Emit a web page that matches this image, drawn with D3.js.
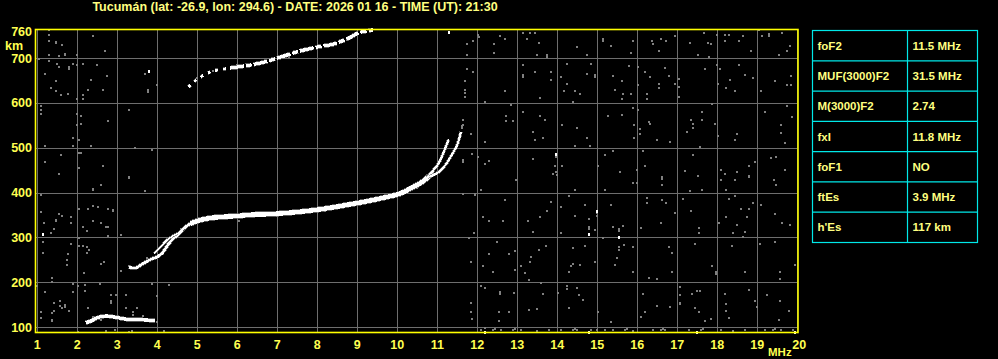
<!DOCTYPE html>
<html><head><meta charset="utf-8">
<script src="https://cdn.jsdelivr.net/npm/d3@7"></script>
<style>html,body{margin:0;padding:0;background:#000;overflow:hidden}</style>
</head><body><svg id="c" width="998" height="359"></svg>
<script>
const title = "Tucumán (lat: -26.9, lon: 294.6) - DATE: 2026 01 16 - TIME (UT): 21:30";
const freqTicks = [1,2,3,4,5,6,7,8,9,10,11,12,13,14,15,16,17,18,19,20];
const kmGrid = [100,200,300,400,500,600,700];
const kmLabels = [100,200,300,400,500,600,700,760];
const paramNames = ["foF2","MUF(3000)F2","M(3000)F2","fxI","foF1","ftEs","h'Es"];
const paramValues = ["11.5 MHz","31.5 MHz","2.74","11.8 MHz","NO","3.9 MHz","117 km"];

// Es trace
const esTrace = [[2.21,110],[2.35,114],[2.5,121],[2.71,125],[2.96,122],[3.21,118],[3.46,117],[3.71,116],[3.94,115]];
// F trace rise (O)
const fRise = [[3.29,234],[3.46,232],[3.63,241],[3.83,251],[4.0,257],[4.13,266],[4.23,279],[4.38,296],[4.5,305],[4.67,321],[4.83,331],[5.0,337]];
// F trace X strand at low frequency
const fRiseX = [[3.92,265],[4.0,272],[4.13,284],[4.25,295],[4.38,303],[4.5,309]];
// F trace plateau
const fMain = [[4.83,331],[5.0,337],[5.29,343],[5.63,346],[6.0,348],[6.38,351],[6.79,352],[7.13,354],[7.63,358],[8.0,362],[8.38,367],[8.82,374],[9.2,380],[9.57,387],[10.07,398],[10.32,409],[10.57,421],[10.75,433],[10.9,446]];
// O-mode cusp
const fO = [[10.75,433],[10.9,450],[11.03,465],[11.15,488],[11.23,506],[11.29,519]];
// X-mode cusp
const fX = [[10.8,435],[11.07,448],[11.23,465],[11.36,484],[11.48,503],[11.55,521],[11.59,536]];
// second hop F trace
const f2Sparse = [[4.78,635],[4.98,652],[5.32,669],[5.6,675],[5.82,678]];
const f2Main = [[5.82,678],[6.14,682],[6.57,689],[7.07,702],[7.57,716],[8.07,726],[8.39,731],[8.82,746],[9.02,756],[9.39,763]];

const noiseWhite = [[14.8,307],[14.98,360],[15.55,301],[13.98,486],[1.13,308],[12.2,89],[14.8,89],[17.5,89],[19.95,89],[11.3,758],[3.8,672]];
const noiseGray = [
[12.97,428],[14.0,439],[14.44,405],[15.19,407],[15.88,422],[15.98,422],[16.63,431],[16.63,416],[17.32,403],[17.63,407],[18.23,407],[18.1,428],[18.44,428],[18.78,436],[19.42,428],[19.48,416],[12.1,407],[11.94,396],
[11.63,396],[12.69,383],[12.13,345],[12.3,337],[12.63,337],[11.93,310],[13.27,337],[13.38,313],[13.58,345],[13.83,379],[13.75,360],[14.08,368],[14.08,310],[14.44,348],[14.28,393],[14.69,372],[14.8,342],[14.8,323],[14.8,318],[14.98,349],[14.98,354],[14.94,316],[15.13,299],[15.34,372],[15.4,323],[15.55,319],[15.55,314],[15.65,325],[16.1,321],[16.23,388],[16.23,378],[16.63,383],[16.73,378],[16.59,332],[16.94,355],[17.13,385],[17.34,359],[17.54,321],[17.54,310],[18.3,385],[18.44,393],[18.59,363],[18.9,378],[18.78,363],[18.73,345],[18.48,327],[18.69,313],[18.63,301],[19.44,353],[19.63,332],[19.83,327],[19.09,372],[18.23,345],[18.05,332],[18.4,310],
[11.79,299],[12.48,289],[12.29,263],[12.8,263],[12.93,270],[11.84,245],[12.13,237],[12.38,224],[12.93,228],[13.09,237],[13.34,256],[13.33,245],[13.54,273],[13.71,280],[13.19,221],[13.29,206],[14.28,224],[14.35,237],[14.4,276],[14.39,241],[14.57,239],[14.69,281],[14.94,246],[15.44,239],[15.49,254],[15.54,278],[15.54,273],[15.67,284],[15.88,278],[15.88,224],[16.3,209],[16.48,207],[16.79,278],[16.88,265],[16.88,224],[17.44,286],[17.88,237],[17.96,219],[17.96,223],[18.69,224],[19.58,224],[19.58,207],[19.94,239],[19.08,286],[19.44,291],[18.38,282],
[12.09,191],[12.19,187],[12.58,178],[12.58,173],[12.92,176],[11.84,154],[11.84,133],[11.86,118],[12.55,133],[12.8,133],[12.55,114],[13.29,138],[13.5,140],[13.65,174],[13.6,198],[14.03,176],[14.23,191],[14.23,186],[14.48,187],[14.54,172],[14.63,161],[14.29,142],[15.03,133],[15.34,111],[16.1,122],[16.13,174],[16.19,133],[16.48,148],[16.83,146],[17.07,189],[17.08,172],[17.08,155],[17.08,151],[17.36,174],[17.48,181],[17.57,181],[17.44,142],[17.54,133],[17.69,114],[17.85,118],[18.19,174],[18.23,151],[18.3,120],[18.23,136],[18.78,183],[18.94,158],[18.98,145],[19.23,172],[19.58,158],[19.55,115],[19.78,136],
[12.1,93],[12.4,93],[12.45,96],[12.6,93],[12.9,93],[12.95,96],[13.1,93],[13.8,93],[14.1,93],[14.4,93],[14.45,96],[14.5,93],[14.85,93],[15.0,93],[15.2,93],[15.4,93],[15.7,93],[15.75,96],[16.4,93],[16.6,93],[16.65,96],[16.7,93],[17.3,93],[17.6,93],[17.65,96],[18.1,93],[18.7,93],[19.2,93],[19.4,93],[19.45,96],[19.6,93],[19.9,93],[12.2,98],[13.5,92],[15.9,92],[18.4,92],
[11.73,732],[11.88,738],[12.03,752],[12.05,748],[11.73,706],[12.43,731],[12.43,712],[12.58,749],[12.69,743],[13.13,757],[13.23,742],[13.33,757],[13.44,757],[13.54,734],[13.5,707],[13.73,702],[13.73,707],[14.5,725],[14.73,708],[15.13,742],[15.13,738],[15.33,727],[15.88,739],[15.83,712],[16.38,738],[16.4,731],[16.59,743],[16.73,738],[16.93,749],[16.55,717],[17.33,734],[17.67,757],[17.77,734],[17.85,731],[17.78,702],[17.52,708],[18.0,752],[18.2,752],[18.3,752],[18.2,739],[18.55,739],[18.65,749],[18.85,717],[19.03,762],[19.13,749],[19.28,754],[19.28,749],[19.63,757],[19.83,727],[19.73,717],[19.53,708],
[11.73,675],[11.88,670],[11.68,648],[11.7,628],[11.7,623],[11.68,613],[12.19,603],[12.69,626],[13.13,684],[13.13,663],[13.13,659],[13.44,670],[13.83,669],[13.83,652],[13.58,611],[14.23,687],[14.09,658],[14.23,643],[14.17,626],[14.44,626],[14.56,620],[14.39,603],[14.73,665],[14.84,687],[14.94,663],[14.94,659],[15.38,660],[15.63,650],[15.44,629],[15.65,620],[15.63,608],[15.83,620],[15.79,682],[16.02,640],[16.02,680],[16.19,669],[16.33,658],[16.23,620],[16.23,608],[16.54,643],[16.54,633],[16.69,678],[16.79,661],[17.04,654],[17.04,635],[17.04,613],[16.94,643],[17.69,675],[18.08,675],[17.98,684],[18.02,643],[18.23,633],[18.33,652],[18.44,626],[18.55,684],[18.69,663],[18.9,656],[19.09,626],[19.44,648],[19.73,639],[19.84,639],[19.84,661],
[11.63,563],[11.63,550],[12.19,514],[12.73,570],[12.73,559],[12.88,559],[12.83,596],[13.13,579],[13.58,570],[13.68,563],[13.38,536],[13.44,518],[13.63,522],[14.13,550],[14.48,544],[14.73,522],[14.45,505],[14.83,505],[15.28,572],[15.61,573],[15.9,589],[16.02,585],[15.93,550],[15.93,522],[16.08,541],[16.08,531],[16.3,557],[16.33,553],[16.48,518],[16.83,514],[17.34,563],[17.38,553],[17.38,544],[17.24,536],[17.63,581],[17.63,563],[17.88,598],[17.94,553],[18.02,527],[18.48,531],[18.44,518],[19.18,581],[19.73,594],[19.88,568],[19.59,551],[19.59,533],[19.69,511],
[11.86,486],[12.03,479],[12.19,464],[12.3,471],[11.63,469],[13.38,474],[13.98,479],[13.94,460],[13.97,445],[13.9,441],[14.13,460],[15.01,460],[15.18,483],[15.38,492],[15.57,447],[15.98,451],[16.13,492],[16.19,460],[16.63,434],[17.19,449],[17.38,484],[17.52,438],[17.57,501],[18.1,451],[18.2,442],[18.48,445],[18.78,460],[18.94,469],[19.34,477],[19.48,479],[19.69,451],[18.78,438],
[1.28,762],[1.28,752],[1.28,739],[1.48,737],[1.48,733],[1.63,730],[1.68,710],[1.68,706],[1.53,704],[1.28,707],[1.28,693],[2.38,749],[2.68,717],[1.98,707],[1.04,699],[1.5,687],[1.53,680],[1.79,676],[1.79,680],[1.88,687],[2.13,687],[1.98,684],[2.48,684],[1.18,665],[1.48,648],[1.33,634],[1.48,626],[1.58,617],[1.77,620],[2.33,652],[2.28,629],[2.63,629],[2.73,661],[2.13,617],[2.13,608],[1.98,608],[3.68,665],[3.77,624],[3.77,628],[3.98,639],[1.08,594],[1.08,585],[1.08,576],[3.28,585],[2.08,572],[1.98,576],[2.08,553],[1.98,550],[2.78,559],[1.88,523],[2.03,518],[1.18,505],[1.88,505],[2.33,505],[3.43,500],[3.88,496],[1.58,483],[2.03,489],[2.08,489],[1.18,469],[2.03,456],[2.63,460],[1.53,442],[3.28,434],
[3.28,433],[2.38,405],[2.38,409],[2.58,416],[3.68,403],[1.08,394],[1.08,357],[1.53,353],[1.63,349],[1.83,346],[2.03,364],[2.28,364],[2.39,370],[2.53,368],[2.78,364],[2.9,362],[2.9,358],[1.48,340],[1.48,336],[1.17,332],[1.83,332],[2.38,337],[2.58,332],[2.72,323],[2.76,323],[2.13,323],[2.23,314],[1.43,320],[1.33,310],[2.78,303],[3.08,305],[2.03,299],[1.13,291],[1.83,286],[2.03,282],[2.13,281],[2.23,279],[2.29,273],[1.13,265],[1.77,264],[2.23,265],[1.73,250],[1.73,238],[2.67,245],[2.6,241],[3.08,225],[2.17,221],[1.38,210],[1.38,201],[2.57,197],[2.18,193],[1.88,197],[2.02,191],[3.88,197],[4.28,193],[1.0,191],[1.18,178],[1.88,178],[2.18,180],[2.96,172],[3.22,172],[2.83,171],[2.83,159],[2.83,155],[1.57,159],[1.43,154],[1.68,150],[1.68,146],[1.63,143],[1.79,137],[1.43,137],[1.08,133],[1.38,132],[1.38,113],[1.38,117],[1.08,120],[1.57,147],[2.28,142],[3.22,142],[3.48,142],[3.98,169],[2.72,92],[2.93,94],[2.02,90],[4.18,92],[3.38,92],[3.28,89],
[2.38,122],[2.45,117],[2.6,115],[3.4,133],[3.4,128],[3.63,124],[3.98,111],[3.3,236],[3.75,255],[4.15,270],[4.6,318],[5.45,347],[6.2,346],[7.4,352],[7.0,348],[8.2,360],[9.0,373],[9.8,389],[10.5,410],[10.7,424],
[11.62,549],[11.62,545],[11.84,531],[11.64,473],[11.94,394],[5.0,655],[5.4,672],[6.0,684],[6.3,684],[7.3,703],[8.6,735],[8.75,741],[6.05,336]
];

const svg = d3.select("#c");
const x = d3.scaleLinear().domain([1,20]).range([37.3,797.3]);
const y = d3.scaleLinear().domain([87,765]).range([333,29]);
const X0 = 35.5, X1 = 797.5, Y0 = 29.5, Y1 = 332.5;

svg.append("rect").attr("width",998).attr("height",359).attr("fill","#000");

// grid
const g = svg.append("g").attr("shape-rendering","crispEdges").attr("stroke","#6e6e6e").attr("stroke-width",1);
g.selectAll("line.v").data(freqTicks).join("line")
  .attr("x1",d=>Math.round(x(d))+0.5).attr("x2",d=>Math.round(x(d))+0.5).attr("y1",Y0).attr("y2",Y1);
g.selectAll("line.h").data(kmGrid).join("line").attr("class","h")
  .attr("x1",X0).attr("x2",X1).attr("y1",d=>Math.round(y(d))+0.5).attr("y2",d=>Math.round(y(d))+0.5);

// noise
const ng = svg.append("g").attr("shape-rendering","crispEdges");
ng.selectAll("rect.g").data(noiseGray).join("rect").attr("class","g")
  .attr("x",d=>Math.round(x(d[0]))-1).attr("y",d=>Math.round(y(d[1]))-1).attr("width",2).attr("height",2).attr("fill","#808080");
ng.selectAll("rect.w").data(noiseWhite).join("rect").attr("class","w")
  .attr("x",d=>Math.round(x(d[0]))-1).attr("y",d=>Math.round(y(d[1]))-1).attr("width",2).attr("height",3).attr("fill","#fff");

// traces
const line = d3.line().x(d=>x(d[0])).y(d=>y(d[1])).curve(d3.curveCatmullRom.alpha(0.5));
function trace(data, w, dash){
  svg.append("path").datum(data).attr("d",line).attr("fill","none").attr("shape-rendering","crispEdges")
    .attr("stroke","#808080").attr("stroke-width",w+1.5).attr("stroke-dasharray",dash||null).attr("opacity",0.7);
  svg.append("path").datum(data).attr("d",line).attr("fill","none").attr("shape-rendering","crispEdges")
    .attr("stroke","#fff").attr("stroke-width",w).attr("stroke-dasharray",dash||null);
}
trace(esTrace,3.2);
trace(fRise,2.6);
trace(fRiseX,1.5);
trace(fMain,4.5);
trace(fO,2);
trace(fX,2);
trace(f2Sparse,2.5,"3,5");
trace(f2Main,3.2,"14,2,6,2");

// frame
svg.append("rect").attr("x",X0).attr("y",Y0).attr("width",X1-X0+0.5).attr("height",Y1-Y0)
  .attr("fill","none").attr("stroke","#ffff00").attr("stroke-width",1.6);

const font = "'Liberation Sans', Arial, sans-serif";
// title
svg.append("text").attr("x",295).attr("y",11).attr("text-anchor","middle")
  .attr("font-family",font).attr("font-weight","bold").attr("font-size",12.5).attr("fill","#ffff80").text(title);

// y labels
svg.selectAll("text.yl").data(kmLabels).join("text").attr("class","yl")
  .attr("x",32).attr("y",d=>y(d)).attr("dy","0.36em").attr("text-anchor","end")
  .attr("font-family",font).attr("font-weight","bold").attr("font-size",12.5).attr("fill","#ffff50").text(d=>d);
svg.append("text").attr("x",5).attr("y",45).attr("dy","0.36em")
  .attr("font-family",font).attr("font-weight","bold").attr("font-size",12.5).attr("fill","#ffff50").text("km");

// x labels
svg.selectAll("text.xl").data(freqTicks).join("text").attr("class","xl")
  .attr("x",d=>x(d)+(d===20?2:0)).attr("y",344).attr("dy","0.36em").attr("text-anchor","middle")
  .attr("font-family",font).attr("font-weight","bold").attr("font-size",12.5).attr("fill","#ffff50").text(d=>d);
svg.append("text").attr("x",768).attr("y",352).attr("dy","0.36em")
  .attr("font-family",font).attr("font-weight","bold").attr("font-size",11.5).attr("fill","#ffff50").text("MHz");

// parameter table
const tx0 = 812.5, tx1 = 977.5, tmid = 907.5;
const rows = d3.scaleBand().domain(paramNames).range([30.5,242.5]);
const tg = svg.append("g");
tg.append("rect").attr("x",tx0).attr("y",30.5).attr("width",tx1-tx0).attr("height",212)
  .attr("fill","none").attr("stroke","#00e8e8").attr("stroke-width",1.2);
tg.append("line").attr("x1",tmid).attr("x2",tmid).attr("y1",30.5).attr("y2",242.5).attr("stroke","#00e8e8").attr("stroke-width",1.2);
tg.selectAll("line.r").data(paramNames.slice(1)).join("line").attr("class","r")
  .attr("x1",tx0).attr("x2",tx1).attr("y1",d=>rows(d)).attr("y2",d=>rows(d)).attr("stroke","#00e8e8").attr("stroke-width",1.2);
tg.selectAll("text.pn").data(paramNames).join("text").attr("class","pn")
  .attr("x",817.5).attr("y",d=>rows(d)+rows.bandwidth()/2).attr("dy","0.36em")
  .attr("font-family",font).attr("font-weight","bold").attr("font-size",11.5).attr("fill","#ffff80").text(d=>d);
tg.selectAll("text.pv").data(paramValues).join("text").attr("class","pv")
  .attr("x",912.5).attr("y",(d,i)=>rows(paramNames[i])+rows.bandwidth()/2).attr("dy","0.36em")
  .attr("font-family",font).attr("font-weight","bold").attr("font-size",11.5).attr("fill","#ffff80").text(d=>d);
</script></body></html>
